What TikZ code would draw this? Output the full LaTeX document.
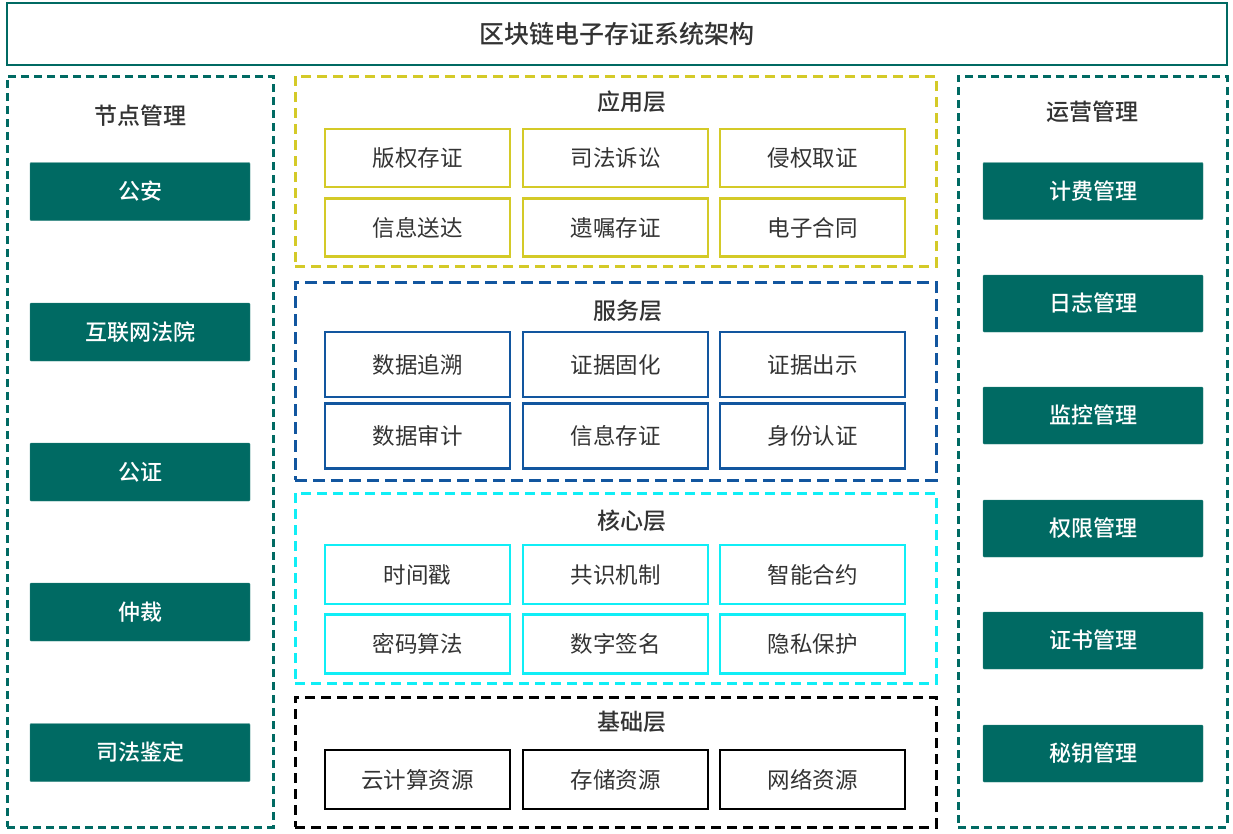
\documentclass[tikz,border=0pt]{standalone}
\usepackage{fontspec}
\setmainfont{Noto Sans CJK SC}[BoldFont={Noto Sans CJK SC Medium}]
\definecolor{tealc}{HTML}{006A63}
\definecolor{yellowc}{HTML}{D4CA28}
\definecolor{bluec}{HTML}{12569F}
\definecolor{cyanc}{HTML}{10EEF6}
\definecolor{textc}{HTML}{333333}

\begin{document}
\begin{tikzpicture}[x=1pt,y=-1pt,
  panel/.style={draw, line width=3pt, dash pattern=on 10pt off 6pt, inner sep=0pt},
  item/.style={draw, line width=2.8pt, inner sep=0pt, minimum width=185pt,
    font=\fontsize{22.5}{26}\selectfont, text=textc},
  tealbox/.style={fill=tealc, draw=tealc!80!white, rounded corners=1pt, inner sep=0pt,
    minimum width=220pt, minimum height=58pt, text=white,
    font=\fontsize{22}{26}\selectfont\bfseries},
  head/.style={font=\fontsize{23}{26}\selectfont\bfseries, text=textc}]

\useasboundingbox (0,0) rectangle (1233,833);

% title
\node[draw=tealc, line width=2.8pt, minimum width=1220pt, minimum height=62pt, inner sep=0pt,
  font=\fontsize{25}{28}\selectfont\bfseries, text=textc] (title) at (617,34) {区块链电子存证系统架构};

% side panels
\node[panel, draw=tealc, dash pattern=on 8pt off 5pt, minimum width=266pt, minimum height=751pt] (nodepanel) at (140,451.5) {};
\node[head] (nodehead) at (140,116) {节点管理};
\node[tealbox] (gongan) at (140,191.5) {公安};
\node[tealbox] (fayuan) at (140,332) {互联网法院};
\node[tealbox] (gongzheng) at (140,472) {公证};
\node[tealbox] (zhongcai) at (140,612) {仲裁};
\node[tealbox] (jianding) at (140,752.5) {司法鉴定};

\node[panel, draw=tealc, dash pattern=on 8pt off 5pt, minimum width=269pt, minimum height=751pt] (oppanel) at (1092.5,451.5) {};
\node[head] (ophead) at (1092,112) {运营管理};
\node[tealbox, minimum height=57pt] (jifei) at (1093,191) {计费管理};
\node[tealbox, minimum height=57pt] (rizhi) at (1093,303.5) {日志管理};
\node[tealbox, minimum height=57pt] (jiankong) at (1093,415.5) {监控管理};
\node[tealbox, minimum height=57pt] (quanxian) at (1093,528.5) {权限管理};
\node[tealbox, minimum height=57pt] (zhengshu) at (1093,640.5) {证书管理};
\node[tealbox, minimum height=57pt] (miyao) at (1093,753.5) {秘钥管理};

% application layer
\node[panel, draw=yellowc, minimum width=641pt, minimum height=190pt] (app) at (615.5,171) {};
\node[head] (apphead) at (632,102) {应用层};
\begin{scope}[every node/.style={item, draw=yellowc, minimum height=58pt}]
  \node (app1) at (417.5,158) {版权存证};
  \node (app2) at (615.5,158) {司法诉讼};
  \node (app3) at (812.5,158) {侵权取证};
  \node (app4) at (417.5,227.5) {信息送达};
  \node (app5) at (615.5,227.5) {遗嘱存证};
  \node (app6) at (812.5,227.5) {电子合同};
\end{scope}

% service layer
\node[panel, draw=bluec, dash pattern=on 12pt off 6pt, minimum width=641pt, minimum height=198pt] (svc) at (615.5,381) {};
\node[head] (svchead) at (628,311) {服务层};
\begin{scope}[every node/.style={item, draw=bluec, minimum height=65pt}]
  \node (svc1) at (417.5,364.5) {数据追溯};
  \node (svc2) at (615.5,364.5) {证据固化};
  \node (svc3) at (812.5,364.5) {证据出示};
  \node (svc4) at (417.5,436) {数据审计};
  \node (svc5) at (615.5,436) {信息存证};
  \node (svc6) at (812.5,436) {身份认证};
\end{scope}

% core layer
\node[panel, draw=cyanc, minimum width=641pt, minimum height=190pt] (core) at (615.5,588) {};
\node[head] (corehead) at (632,521) {核心层};
\begin{scope}[every node/.style={item, draw=cyanc, minimum height=59pt}]
  \node (core1) at (417.5,574.5) {时间戳};
  \node (core2) at (615.5,574.5) {共识机制};
  \node (core3) at (812.5,574.5) {智能合约};
  \node (core4) at (417.5,644) {密码算法};
  \node (core5) at (615.5,644) {数字签名};
  \node (core6) at (812.5,644) {隐私保护};
\end{scope}

% base layer
\node[panel, draw=black, minimum width=641pt, minimum height=130pt] (base) at (615.5,762) {};
\node[head] (basehead) at (632,722) {基础层};
\begin{scope}[every node/.style={item, draw=black, minimum height=59pt}]
  \node (base1) at (417.5,779.5) {云计算资源};
  \node (base2) at (615.5,779.5) {存储资源};
  \node (base3) at (812.5,779.5) {网络资源};
\end{scope}

\end{tikzpicture}
\end{document}
